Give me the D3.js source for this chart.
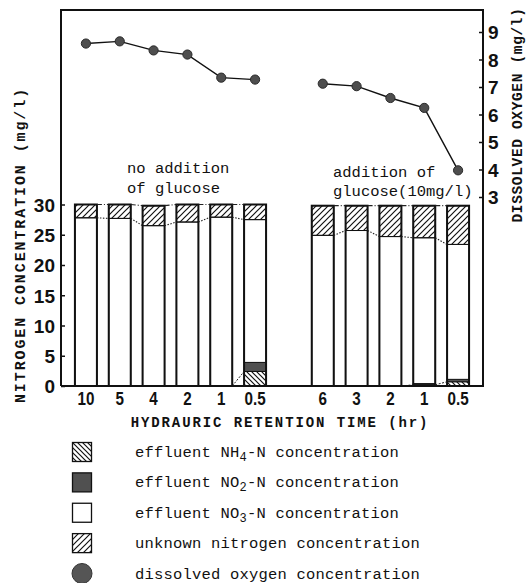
<!DOCTYPE html>
<html>
<head>
<meta charset="utf-8">
<script src="https://cdn.jsdelivr.net/npm/d3@7"></script>
<style>
  body { margin: 0; background: #fff; }
  .num { font-family: "Liberation Sans", Arial, sans-serif; font-weight: bold; font-size: 19px; fill: #111; }
  .mono { font-family: "Liberation Mono", "DejaVu Sans Mono", monospace; fill: #111; }
</style>
</head>
<body>
<svg id="chart"></svg>
<script>
// runs, in the order they sit on the x axis (n = no glucose, g = glucose added)
const runs = ["n10", "n5", "n4", "n2", "n1", "n0.5", "g6", "g3", "g2", "g1", "g0.5"];
const hrtLabels = ["10", "5", "4", "2", "1", "0.5", "6", "3", "2", "1", "0.5"];
const runGroup = ["none", "none", "none", "none", "none", "none", "glucose", "glucose", "glucose", "glucose", "glucose"];

// nitrogen fractions (mg/l)
const nh4 = [0, 0, 0, 0, 0, 2.4, 0, 0, 0, 0.2, 0.7];
const no2 = [0, 0, 0, 0, 0, 1.5, 0, 0, 0, 0.2, 0.4];
const no3 = [27.8, 27.7, 26.5, 27.1, 27.9, 23.6, 24.9, 25.7, 24.7, 24.1, 22.3];
const unknownN = [2.2, 2.3, 3.3, 2.9, 2.1, 2.5, 4.9, 4.1, 5.1, 5.3, 6.4];

// dissolved oxygen (mg/l)
const dOxygen = [8.58, 8.66, 8.33, 8.18, 7.34, 7.27, 7.12, 7.03, 6.60, 6.24, 3.97];

const nTicks = [0, 5, 10, 15, 20, 25, 30];
const doTicks = [3, 4, 5, 6, 7, 8, 9];

const legendText = [
  ["effluent NH", "4", "-N concentration"],
  ["effluent NO", "2", "-N concentration"],
  ["effluent NO", "3", "-N concentration"],
  ["unknown nitrogen concentration"],
  ["dissolved oxygen concentration"]
];
const legendKind = ["nh4", "no2", "no3", "unknown", "do"];

const width = 529, height = 583;
const frame = {left: 61, right: 483, top: 10, bottom: 386};

const svg = d3.select("#chart").attr("width", width).attr("height", height);

// hatch patterns
const defs = svg.append("defs");
defs.append("pattern").attr("id", "hatchF")
  .attr("patternUnits", "userSpaceOnUse").attr("width", 6).attr("height", 6)
  .append("path").attr("d", "M0,6 L6,0 M-1,1 L1,-1 M5,7 L7,5")
  .attr("stroke", "#111").attr("stroke-width", 1.2);
defs.append("pattern").attr("id", "hatchB")
  .attr("patternUnits", "userSpaceOnUse").attr("width", 5).attr("height", 5)
  .append("path").attr("d", "M0,0 L5,5 M-1,4 L1,6 M4,-1 L6,1")
  .attr("stroke", "#111").attr("stroke-width", 1.2);

const fills = {nh4: "url(#hatchB)", no2: "#505050", no3: "#fff", unknown: "url(#hatchF)"};

// the empty slot between the two series of runs
const slots = runs.slice(0, 6).concat(["gap"], runs.slice(6));

const x = d3.scaleBand().domain(slots).range([69, 475]).paddingInner(0.35).paddingOuter(0.175);
const y = d3.scaleLinear().domain([0, 30]).range([frame.bottom, 204.5]);
const yDO = d3.scaleLinear().domain([3, 9]).range([197, 32]);
const bw = x.bandwidth();

const table = runs.map((r, i) => ({
  run: r, group: runGroup[i], label: hrtLabels[i],
  nh4: nh4[i], no2: no2[i], no3: no3[i], unknown: unknownN[i], dox: dOxygen[i]
}));

const keys = ["nh4", "no2", "no3", "unknown"];
const stacked = d3.stack().keys(keys)(table);

// bar segments
const segs = svg.append("g");
stacked.forEach(series => {
  segs.selectAll(null)
    .data(series.filter(d => d[1] - d[0] > 0))
    .enter().append("rect")
      .attr("x", d => x(d.data.run))
      .attr("y", d => y(d[1]))
      .attr("width", bw)
      .attr("height", d => y(d[0]) - y(d[1]))
      .attr("fill", fills[series.key])
      .attr("stroke", "#111")
      .attr("stroke-width", 1);
});

// bar outlines
const topSeries = stacked[stacked.length - 1];
svg.append("g").selectAll("rect")
  .data(topSeries)
  .enter().append("rect")
    .attr("x", d => x(d.data.run))
    .attr("y", d => y(d[1]))
    .attr("width", bw)
    .attr("height", d => y(0) - y(d[1]))
    .attr("fill", "none")
    .attr("stroke", "#111")
    .attr("stroke-width", 2);

// connecting lines between neighbouring bars of one series
const links = svg.append("g").attr("fill", "none").attr("stroke", "#222");
function connect(series, dash, sw) {
  for (let i = 0; i < series.length - 1; i++) {
    const a = series[i], b = series[i + 1];
    if (a.data.group !== b.data.group) continue;
    if (a[1] === 0 && b[1] === 0) continue;
    links.append("line")
      .attr("x1", x(a.data.run) + bw).attr("y1", y(a[1]))
      .attr("x2", x(b.data.run)).attr("y2", y(b[1]))
      .attr("stroke-dasharray", dash)
      .attr("stroke-width", sw);
  }
}
connect(stacked[0], "2,1.5", 1);
connect(stacked[2], "1.5,1.5", 1.1);
connect(stacked[3], "5,2,1,2", 1.2);

// frame
const fr = svg.append("g").attr("stroke", "#111").attr("stroke-width", 2).attr("fill", "none");
fr.append("path").attr("d", `M${frame.left},${frame.bottom} V${frame.top} H${frame.right} V${frame.bottom} H${frame.left}`);

// left axis
const axL = svg.append("g").attr("transform", `translate(${frame.left},0)`)
  .call(d3.axisLeft(y).tickValues(nTicks).tickSizeInner(-4).tickSizeOuter(0).tickPadding(6));
axL.select(".domain").remove();
axL.selectAll("line").attr("stroke", "#111").attr("stroke-width", 1.5);
axL.selectAll("text").attr("class", "num").attr("dy", "0.36em");

// right axis
const axR = svg.append("g").attr("transform", `translate(${frame.right},0)`)
  .call(d3.axisRight(yDO).tickValues(doTicks).tickFormat(d3.format("d"))
    .tickSizeInner(-4).tickSizeOuter(0).tickPadding(5));
axR.select(".domain").remove();
axR.selectAll("line").attr("stroke", "#111").attr("stroke-width", 1.5);
axR.selectAll("text").attr("class", "num").attr("dy", "0.36em");

// bottom axis labels (narrow figures)
const labelOf = {};
table.forEach(d => { labelOf[d.run] = d.label; });
const axB = svg.append("g").attr("transform", `translate(0,${frame.bottom})`)
  .call(d3.axisBottom(x).tickSize(0).tickPadding(5.5).tickFormat(k => labelOf[k] || ""));
axB.select(".domain").remove();
axB.selectAll("text").attr("class", "num").attr("transform", "scale(0.8,1)");

// dissolved oxygen lines and dots
const cx = d => x(d.run) + bw / 2;
const line = d3.line().x(cx).y(d => yDO(d.dox));
["none", "glucose"].forEach(g => {
  svg.append("path")
    .datum(table.filter(d => d.group === g))
    .attr("d", line)
    .attr("fill", "none").attr("stroke", "#111").attr("stroke-width", 1.4);
});
svg.append("g").selectAll("circle")
  .data(table)
  .enter().append("circle")
    .attr("cx", cx)
    .attr("cy", d => yDO(d.dox))
    .attr("r", 4.6)
    .attr("fill", "#4e4e4e")
    .attr("stroke", "#2a2a2a")
    .attr("stroke-width", 1);

// titles
svg.append("text").attr("class", "mono")
  .attr("transform", "translate(25,245) rotate(-90)")
  .attr("text-anchor", "middle")
  .style("font-size", "15px").style("font-weight", "bold").style("letter-spacing", "1.9px")
  .text("NITROGEN CONCENTRATION (mg/l)");

svg.append("text").attr("class", "mono")
  .attr("transform", "translate(522,115) rotate(-90)")
  .attr("text-anchor", "middle")
  .style("font-size", "14.5px").style("font-weight", "bold").style("letter-spacing", "0.65px")
  .text("DISSOLVED OXYGEN (mg/l)");

svg.append("text").attr("class", "mono")
  .attr("x", 280).attr("y", 427)
  .attr("text-anchor", "middle")
  .style("font-size", "14px").style("font-weight", "bold").style("letter-spacing", "1.9px")
  .text("HYDRAURIC RETENTION TIME (hr)");

// notes
const notes = [
  {x: 127, y: 173, t: "no addition"},
  {x: 127, y: 193, t: "of glucose"},
  {x: 333, y: 177, t: "addition of"},
  {x: 333, y: 196, t: "glucose(10mg/l)"}
];
svg.append("g").selectAll("text")
  .data(notes)
  .enter().append("text").attr("class", "mono")
    .attr("x", d => d.x).attr("y", d => d.y)
    .style("font-size", "15.5px")
    .text(d => d.t);

// legend
const lg = svg.append("g");
const rowY = d3.scalePoint().domain(legendKind).range([452, 573.5]);
legendKind.forEach((k, i) => {
  const cy = rowY(k);
  if (k === "do") {
    lg.append("circle").attr("cx", 82).attr("cy", cy).attr("r", 10)
      .attr("fill", "#555").attr("stroke", "#333").attr("stroke-width", 1);
  } else {
    lg.append("rect").attr("x", 72.5).attr("y", cy - 9.5).attr("width", 19).attr("height", 19)
      .attr("fill", fills[k]).attr("stroke", "#111").attr("stroke-width", 1.3);
  }
  const t = lg.append("text").attr("class", "mono")
    .attr("x", 135).attr("y", cy + 5)
    .style("font-size", "15.5px").style("letter-spacing", "0.2px");
  const parts = legendText[i];
  t.append("tspan").text(parts[0]);
  if (parts.length > 1) {
    t.append("tspan").attr("dy", 4).style("font-size", "12px").text(parts[1]);
    t.append("tspan").attr("dy", -4).text(parts[2]);
  }
});
</script>
</body>
</html>
